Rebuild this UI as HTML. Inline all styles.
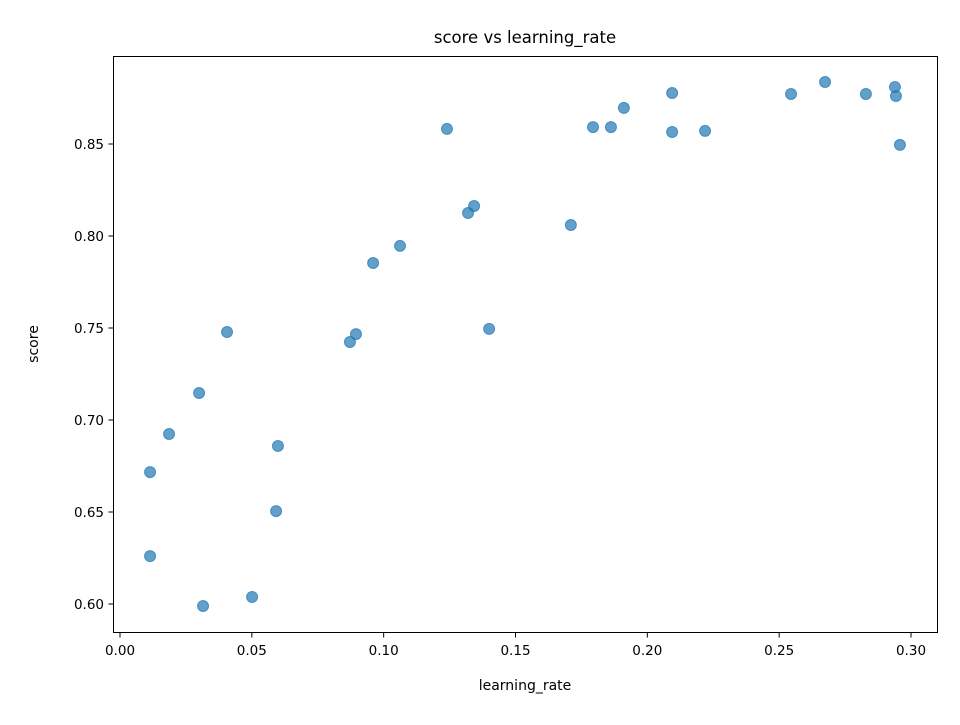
<!DOCTYPE html>
<html><head><meta charset="utf-8"><style>
html,body{margin:0;padding:0;background:#fff;}
svg text{font-family:"DejaVu Sans","Liberation Sans",sans-serif;fill:#000;}
</style></head><body>
<svg id="chart" width="960" height="720" viewBox="0 0 960 720" xmlns="http://www.w3.org/2000/svg">
<rect width="960" height="720" fill="#fff"/>
<text x="525" y="43" font-size="16.5" text-anchor="middle">score vs learning_rate</text>
<text x="525" y="690" font-size="14" text-anchor="middle">learning_rate</text>
<text x="38" y="344" font-size="14" text-anchor="middle" transform="rotate(-90 38 344)">score</text>
<g id="points"></g>
<g id="xticks"></g>
<g id="yticks"></g>
<rect x="113.5" y="56.5" width="824" height="576" fill="none" stroke="#000" stroke-width="1"/>
</svg>
<script>
const xs = [0.0114,0.0114,0.0186,0.0300,0.0315,0.0406,0.0501,0.0592,0.0599,0.0872,0.0895,0.0960,0.1062,0.1240,0.1320,0.1343,0.1400,0.1710,0.1794,0.1862,0.1911,0.2094,0.2094,0.2219,0.2545,0.2674,0.2829,0.2939,0.2943,0.2958];
const ys = [0.6717,0.6260,0.6924,0.7147,0.5989,0.7478,0.6038,0.6505,0.6859,0.7424,0.7467,0.7853,0.7946,0.8582,0.8125,0.8163,0.7495,0.8060,0.8592,0.8592,0.8696,0.8777,0.8565,0.8571,0.8772,0.8837,0.8772,0.8810,0.8761,0.8495];
const xTicks = [0.00,0.05,0.10,0.15,0.20,0.25,0.30];
const yTicks = [0.60,0.65,0.70,0.75,0.80,0.85];
const NS = "http://www.w3.org/2000/svg";
function sx(v){ return 120 + (v - 0) * (911 - 120) / 0.30; }
function sy(v){ return 604 - (v - 0.60) * (604 - 144) / 0.25; }
function mk(tag, attrs, parent){ const e=document.createElementNS(NS,tag); for(const k in attrs) e.setAttribute(k,attrs[k]); parent.appendChild(e); return e; }
const pg=document.getElementById('points');
xs.forEach((x,i)=>{
  const c=mk('circle',{cx:sx(x),cy:sy(ys[i]),r:5.5,fill:'#1f77b4','fill-opacity':0.7,stroke:'#1f77b4','stroke-opacity':0.7,'stroke-width':1},pg);
  
  
});
const xg=document.getElementById('xticks');
xTicks.forEach(t=>{
  const X=sx(t);
  const l=mk('line',{x1:X,x2:X,y1:632.5,y2:637.5,stroke:'#000'},xg);
  
  
  const tx=mk('text',{x:X,y:655,'font-size':13.5,'text-anchor':'middle'},xg);
  tx.textContent=t.toFixed(2);
  
  
});
const yg=document.getElementById('yticks');
yTicks.forEach(t=>{
  const Y=sy(t);
  const l=mk('line',{x1:108.5,x2:113.5,y1:Y,y2:Y,stroke:'#000'},yg);
  
  
  const tx=mk('text',{x:104,y:Y+5,'font-size':13.5,'text-anchor':'end'},yg);
  tx.textContent=t.toFixed(2);
  
  
});
</script>
</body></html>
